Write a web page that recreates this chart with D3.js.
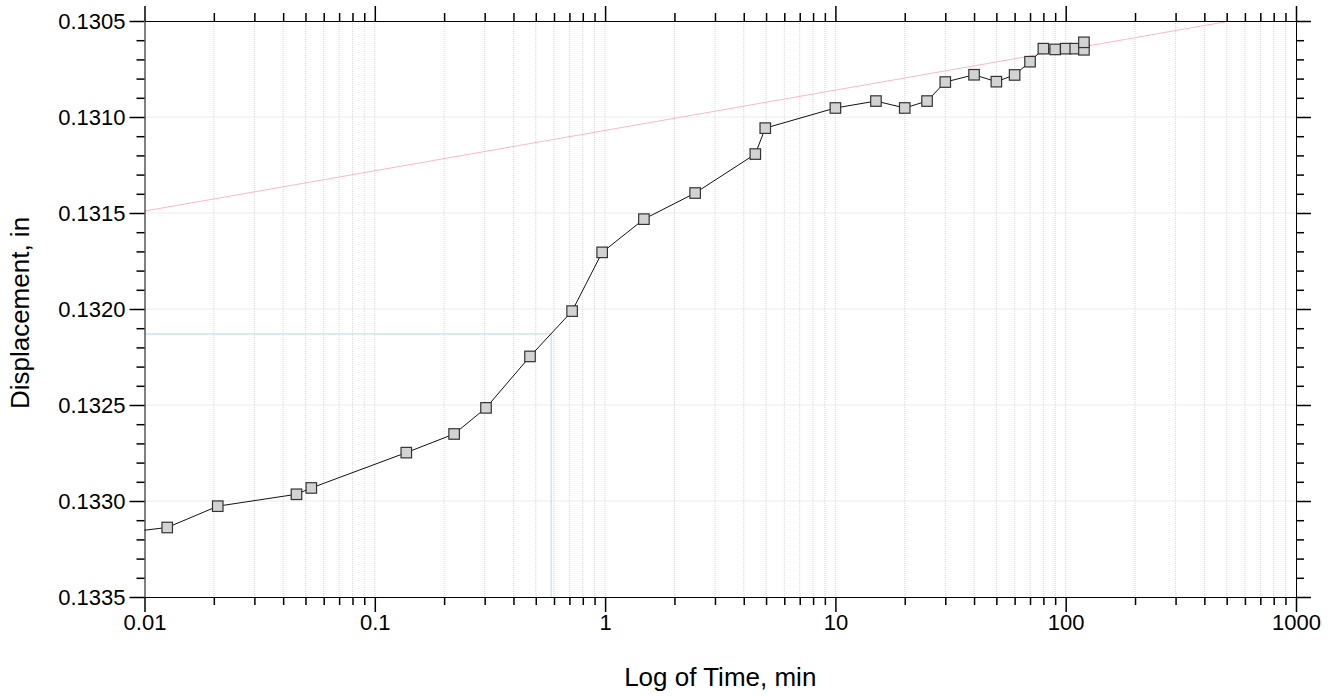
<!DOCTYPE html>
<html>
<head>
<meta charset="utf-8">
<script src="https://cdn.jsdelivr.net/npm/d3@7"></script>
<style>
  html, body { margin: 0; padding: 0; background: #fff; }
  svg { display: block; font-family: "Liberation Sans", Arial, Helvetica, sans-serif; }
</style>
</head>
<body>
<svg id="chart" width="1333" height="696"></svg>
<script>
// ---- data ----
const timeMin = [0.0067, 0.01255, 0.0208, 0.0457, 0.053, 0.137, 0.221, 0.304, 0.472, 0.719, 0.971, 1.474, 2.46, 4.49, 4.96,
                 10, 15, 20, 25, 30, 40, 50, 60, 70, 80, 90, 100, 110, 120, 120];
const displacement = [0.133177, 0.133138, 0.133027, 0.132965, 0.132932, 0.132748, 0.132651, 0.132515, 0.132247, 0.132011,
                      0.131705, 0.131532, 0.131396, 0.131193, 0.131058, 0.130953, 0.130917, 0.130953, 0.130917, 0.130818,
                      0.130780, 0.130816, 0.130781, 0.130712, 0.130644, 0.130648, 0.130644, 0.130644, 0.130650, 0.130611];
const trendTime = [0.01, 1000];
const trendDisp = [0.13149, 0.13044];
const markTime = [0.01, 0.583, 0.583];
const markDisp = [0.13213, 0.13213, 0.1335];
const xMajorTicks = [0.01, 0.1, 1, 10, 100, 1000];
const xTickLabels = ["0.01", "0.1", "1", "10", "100", "1000"];
const yMajorTicks = [0.1305, 0.1310, 0.1315, 0.1320, 0.1325, 0.1330, 0.1335];
const yTickLabels = ["0.1305", "0.1310", "0.1315", "0.1320", "0.1325", "0.1330", "0.1335"];
const xTitle = "Log of Time, min";
const yTitle = "Displacement, in";

(function () {
// ---- layout ----
const svg = d3.select("#chart");
const L = 144.5, T = 21, R = 1296, B = 597;
const x = d3.scaleLog().domain([0.01, 1000]).range([L, R]);
const y = d3.scaleLinear().domain([0.1305, 0.1335]).range([T, B]);

const xMinor = [];
for (let e = -2; e < 3; e++) for (let m = 2; m <= 9; m++) xMinor.push(m * Math.pow(10, e));
const yMinor = [];
for (let i = 0; i <= 30; i++) { const v = +(0.1305 + i * 0.0001).toFixed(4); if (i % 5 !== 0) yMinor.push(v); }

// grid
const grid = svg.append("g");
grid.selectAll("line.vg").data(xMinor.concat(xMajorTicks.slice(1, -1))).join("line")
  .attr("x1", d => x(d)).attr("x2", d => x(d)).attr("y1", T).attr("y2", B)
  .attr("stroke", "#d8d8d8").attr("stroke-width", 1).attr("stroke-dasharray", "1,1");
grid.selectAll("line.hg").data(yMajorTicks.slice(1, -1)).join("line")
  .attr("x1", L).attr("x2", R).attr("y1", d => y(d)).attr("y2", d => y(d))
  .attr("stroke", "#d8d8d8").attr("stroke-width", 1).attr("stroke-dasharray", "1,1");

// clip
svg.append("clipPath").attr("id", "clip").append("rect")
  .attr("x", L).attr("y", T).attr("width", R - L).attr("height", B - T);
const plot = svg.append("g").attr("clip-path", "url(#clip)");

const lineGen = d3.line().x(d => x(d[0])).y(d => y(d[1]));
plot.append("path").datum(d3.zip(trendTime, trendDisp)).attr("d", lineGen)
  .attr("fill", "none").attr("stroke", "#ffb6c8").attr("stroke-width", 1);
plot.append("path").datum(d3.zip(markTime, markDisp)).attr("d", lineGen)
  .attr("fill", "none").attr("stroke", "#a8dcec").attr("stroke-width", 1);
plot.append("path").datum(d3.zip(timeMin, displacement)).attr("d", lineGen)
  .attr("fill", "none").attr("stroke", "#111").attr("stroke-width", 1);
const s = 10.5;
plot.selectAll("rect.pt").data(d3.zip(timeMin, displacement)).join("rect")
  .attr("x", d => x(d[0]) - s / 2).attr("y", d => y(d[1]) - s / 2)
  .attr("width", s).attr("height", s)
  .attr("fill", "#d3d3d3").attr("stroke", "#333").attr("stroke-width", 1.2);

// axes
function styleAxis(g) {
  g.selectAll("path.domain").attr("stroke", "#000").attr("stroke-width", 1);
  g.selectAll(".tick line").attr("stroke", "#000").attr("stroke-width", 1.5);
}
const fs = "22px";
const gBottom = svg.append("g").attr("transform", `translate(0,${B})`)
  .call(d3.axisBottom(x).tickValues(xMajorTicks).tickSize(15).tickSizeOuter(0).tickPadding(2)
    .tickFormat((d, i) => xTickLabels[i]));
gBottom.append("g").call(d3.axisBottom(x).tickValues(xMinor).tickSize(8).tickFormat(""))
  .select("path.domain").remove();
gBottom.selectAll("text").attr("font-size", fs).attr("fill", "#000");
gBottom.attr("font-family", null);
styleAxis(gBottom);

const gTop = svg.append("g").attr("transform", `translate(0,${T})`)
  .call(d3.axisTop(x).tickValues(xMajorTicks).tickSize(15).tickSizeOuter(0).tickFormat(""));
gTop.append("g").call(d3.axisTop(x).tickValues(xMinor).tickSize(8).tickFormat(""))
  .select("path.domain").remove();
styleAxis(gTop);

const gLeft = svg.append("g").attr("transform", `translate(${L},0)`)
  .call(d3.axisLeft(y).tickValues(yMajorTicks).tickSize(15).tickSizeOuter(0).tickPadding(4)
    .tickFormat((d, i) => yTickLabels[i]));
gLeft.append("g").call(d3.axisLeft(y).tickValues(yMinor).tickSize(8).tickFormat(""))
  .select("path.domain").remove();
gLeft.selectAll("text").attr("font-size", fs).attr("fill", "#000");
gLeft.attr("font-family", null);
styleAxis(gLeft);

const gRight = svg.append("g").attr("transform", `translate(${R},0)`)
  .call(d3.axisRight(y).tickValues(yMajorTicks).tickSize(15).tickSizeOuter(0).tickFormat(""));
gRight.append("g").call(d3.axisRight(y).tickValues(yMinor).tickSize(8).tickFormat(""))
  .select("path.domain").remove();
styleAxis(gRight);

// titles
svg.append("text").attr("x", (L + R) / 2).attr("y", 686).attr("text-anchor", "middle")
  .attr("font-size", "26px").attr("fill", "#000").text(xTitle);
svg.append("text").attr("transform", `translate(29,${(T + B) / 2 + 4}) rotate(-90)`).attr("text-anchor", "middle")
  .attr("font-size", "26px").attr("fill", "#000").text(yTitle);
})();
</script>
</body>
</html>
